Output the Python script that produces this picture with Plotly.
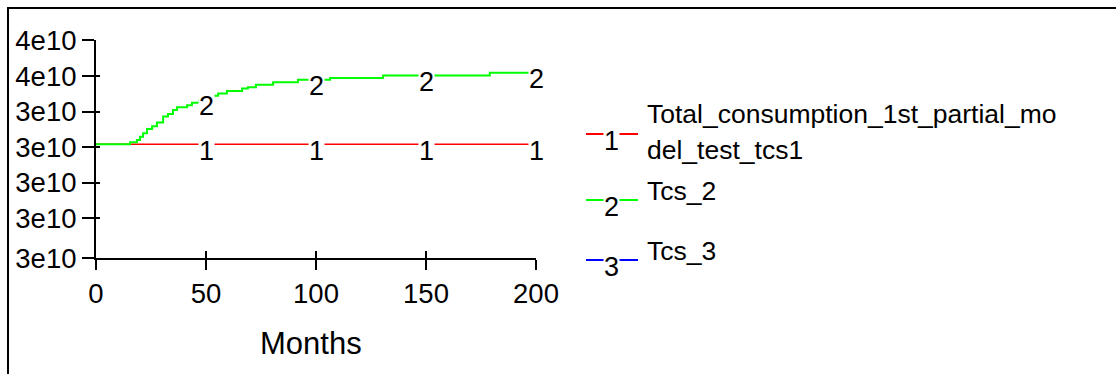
import numpy as np
import plotly.graph_objects as go

# ---------------- data ----------------
months_tcs1 = [0, 200]
tcs1 = [3.308e10, 3.308e10]

months_tcs2 = [0, 15.5, 18.6, 20, 21.4, 23.2, 25.5, 27.7, 30.5, 32.7, 35, 36.8, 41.4, 43.6,
               47, 53.2, 55.5, 59.5, 66.4, 69, 72.7, 80.5, 91.8, 106.4, 130.5, 179, 200]
tcs2 = [3.308, 3.314, 3.320, 3.329, 3.339, 3.351, 3.359, 3.369, 3.386, 3.393, 3.404, 3.412,
        3.418, 3.425, 3.432, 3.444, 3.451, 3.458, 3.465, 3.468, 3.475, 3.482, 3.489, 3.494,
        3.501, 3.509, 3.509]
tcs2 = [v * 1e10 for v in tcs2]

label_months = [50, 100, 150, 200]

x_ticks = [0, 50, 100, 150, 200]
x_ticktext = ["0", "50", "100", "150", "200"]
y_ticks = [2.988e10, 3.1e10, 3.2e10, 3.3e10, 3.4e10, 3.5e10, 3.6e10]
y_ticktext = ["3e10", "3e10", "3e10", "3e10", "3e10", "4e10", "4e10"]

legend_names = ["Total_consumption_1st_partial_mo", "del_test_tcs1", "Tcs_2", "Tcs_3"]

# ---------------- layout helpers ----------------
W, H = 1116, 374
FONT = "Liberation Sans, Arial, sans-serif"


def px(x):
    return x / W


def py(y):
    return 1 - y / H


fig = go.Figure()

fig.add_trace(go.Scatter(x=months_tcs1, y=tcs1, mode="lines",
                         line=dict(color="#ff0000", width=1.5), hoverinfo="skip"))
fig.add_trace(go.Scatter(x=months_tcs2, y=tcs2, mode="lines",
                         line=dict(color="#00ff00", width=2, shape="hv"), hoverinfo="skip"))
# invisible trace for overlay tick axes
fig.add_trace(go.Scatter(x=[0], y=[3.3e10], xaxis="x2", yaxis="y2", mode="markers",
                         marker=dict(opacity=0), hoverinfo="skip"))


def step_value(ts, vs, t):
    i = np.searchsorted(ts, t, side="right") - 1
    return vs[max(i, 0)]


annotations = []
for t in label_months:
    annotations.append(dict(x=t, y=step_value(months_tcs1, tcs1, t), xref="x", yref="y",
                            text="1", showarrow=False, xanchor="center", yanchor="middle",
                            yshift=-7, bgcolor="white", borderpad=0,
                            font=dict(family=FONT, size=27, color="black")))
    annotations.append(dict(x=t, y=step_value(months_tcs2, tcs2, t), xref="x", yref="y",
                            text="2", showarrow=False, xanchor="center", yanchor="middle",
                            yshift=-6, bgcolor="white", borderpad=0,
                            font=dict(family=FONT, size=27, color="black")))

# axis title
annotations.append(dict(x=px(311), y=py(343), xref="paper", yref="paper", text="Months",
                        showarrow=False, xanchor="center", yanchor="middle",
                        font=dict(family=FONT, size=31, color="black")))

# legend
shapes = []
legend_items = [("#ff0000", "1", 134), ("#00ff00", "2", 200), ("#0000ff", "3", 260)]
for color, num, ly in legend_items:
    shapes.append(dict(type="line", xref="paper", yref="paper", x0=px(586), x1=px(638),
                       y0=py(ly), y1=py(ly), line=dict(color=color, width=2)))
    annotations.append(dict(x=px(611), y=py(ly + 7), xref="paper", yref="paper", text=num,
                            showarrow=False, xanchor="center", yanchor="middle",
                            bgcolor="white", borderpad=0,
                            font=dict(family=FONT, size=27, color="black")))

legend_text_y = [114, 150, 191, 251]
for name, ty in zip(legend_names, legend_text_y):
    annotations.append(dict(x=px(645), y=py(ty), xref="paper", yref="paper", text=name,
                            showarrow=False, xanchor="left", yanchor="middle",
                            font=dict(family=FONT, size=26.5, color="black")))

# frame
shapes.append(dict(type="rect", xref="paper", yref="paper", x0=px(8), x1=1.2,
                   y0=-0.2, y1=py(8), line=dict(color="black", width=2)))

xdom = [px(96), px(536)]
ydom = [py(258.3), py(40.3)]

axis_common = dict(showgrid=False, zeroline=False, fixedrange=True, automargin=False)

fig.update_layout(
    template="none",
    width=W, height=H,
    margin=dict(l=0, r=0, t=0, b=0, pad=0, autoexpand=False),
    paper_bgcolor="white", plot_bgcolor="white",
    showlegend=False,
    font=dict(family=FONT, size=27, color="black"),
    xaxis=dict(domain=xdom, range=[0, 200], tickvals=x_ticks, ticktext=x_ticktext,
               ticks="outside", ticklen=10, tickwidth=2, tickcolor="black",
               showline=True, linewidth=2, linecolor="black",
               tickfont=dict(family=FONT, size=27.5, color="black"), **axis_common),
    yaxis=dict(domain=ydom, range=[y_ticks[0], y_ticks[-1]], tickvals=y_ticks,
               ticktext=y_ticktext, ticks="outside", ticklen=12, tickwidth=2,
               tickcolor="black", showline=True, linewidth=2, linecolor="black",
               tickfont=dict(family=FONT, size=27.5, color="black"), **axis_common),
    xaxis2=dict(overlaying="x", anchor="y2", range=[0, 200], tickvals=x_ticks,
                ticks="inside", ticklen=7, tickwidth=2, tickcolor="black",
                showticklabels=False, showline=False, side="bottom", **axis_common),
    yaxis2=dict(overlaying="y", anchor="x2", range=[y_ticks[0], y_ticks[-1]],
                tickvals=y_ticks, ticks="inside", ticklen=4, tickwidth=2,
                tickcolor="black", showticklabels=False, showline=False, side="left",
                **axis_common),
    annotations=annotations,
    shapes=shapes,
)

fig.write_html("out.html")
